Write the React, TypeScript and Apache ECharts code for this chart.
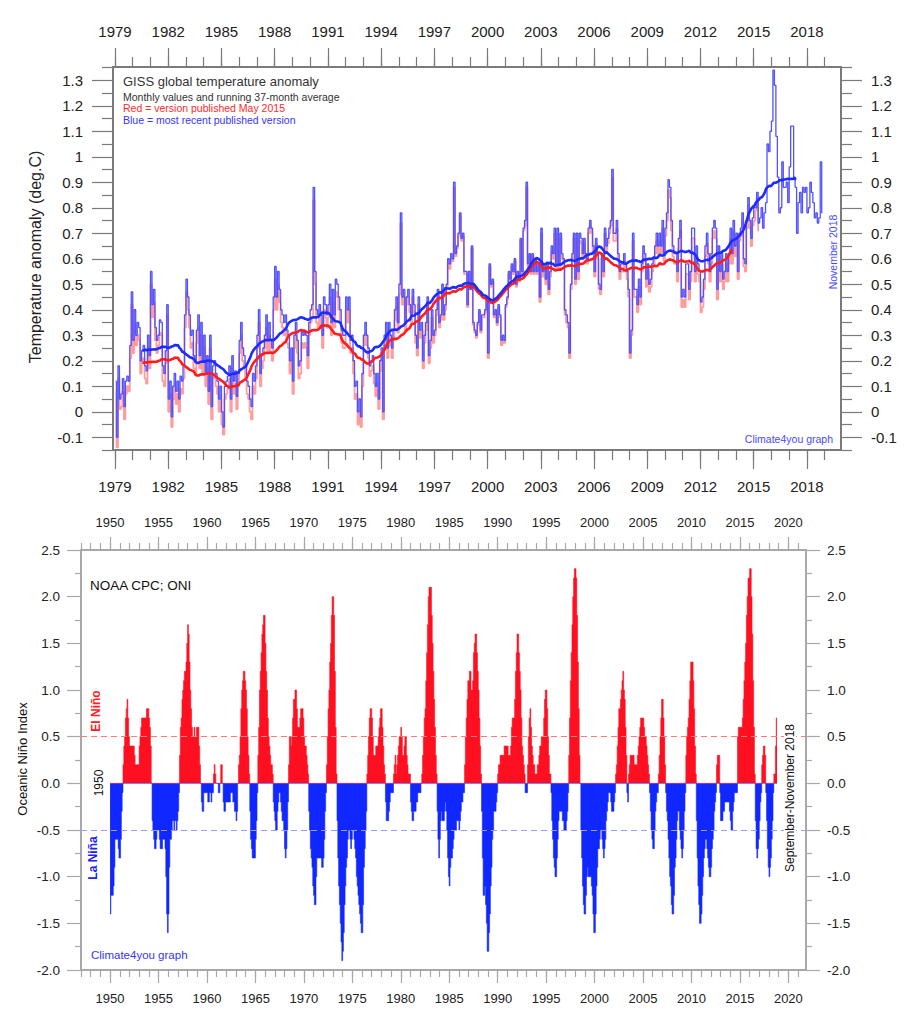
import React, { useEffect, useRef } from "react";
import * as echarts from "echarts";

// ---------- Top panel: GISS monthly anomaly (deg C), starting Jan 1979 ----------
const GISS_START = 1979;
const GISS_BLUE = [
  0.12,-0.10,0.18,0.05,0.07,0.13,0.02,0.12,0.14,0.12,0.26,0.47,
  0.28,0.40,0.30,0.35,0.33,0.20,0.24,0.26,0.18,0.16,0.30,0.22,
  0.55,0.42,0.48,0.33,0.28,0.30,0.36,0.35,0.18,0.15,0.24,0.42,
  0.05,0.12,-0.02,0.10,0.15,0.08,0.12,0.05,0.14,0.12,0.18,0.38,
  0.52,0.45,0.38,0.30,0.32,0.22,0.20,0.32,0.38,0.22,0.35,0.20,
  0.30,0.15,0.22,0.08,0.30,0.02,0.18,0.20,0.15,0.12,0.05,0.10,
  0.00,-0.06,0.10,0.12,0.14,0.18,0.05,0.22,0.12,0.16,0.06,0.15,
  0.28,0.35,0.25,0.22,0.18,0.12,0.10,0.05,0.02,0.15,0.12,0.18,
  0.30,0.40,0.15,0.22,0.25,0.30,0.38,0.28,0.35,0.28,0.25,0.45,
  0.57,0.45,0.55,0.48,0.40,0.38,0.35,0.38,0.32,0.30,0.20,0.25,
  0.12,0.30,0.35,0.28,0.18,0.20,0.32,0.30,0.32,0.30,0.22,0.35,
  0.40,0.42,0.88,0.55,0.40,0.38,0.42,0.38,0.30,0.45,0.42,0.38,
  0.42,0.50,0.35,0.48,0.38,0.52,0.50,0.45,0.40,0.32,0.30,0.30,
  0.45,0.40,0.45,0.28,0.30,0.20,0.10,0.12,0.00,0.05,-0.02,0.15,
  0.30,0.35,0.30,0.25,0.18,0.20,0.22,0.15,0.10,0.15,0.05,0.20,
  0.25,0.00,0.30,0.35,0.25,0.35,0.30,0.25,0.32,0.40,0.45,0.35,
  0.50,0.78,0.45,0.48,0.35,0.45,0.48,0.42,0.38,0.48,0.42,0.30,
  0.25,0.45,0.32,0.35,0.20,0.30,0.35,0.45,0.22,0.28,0.40,0.30,
  0.32,0.40,0.48,0.35,0.38,0.50,0.38,0.42,0.50,0.60,0.58,0.62,
  0.60,0.90,0.62,0.65,0.70,0.78,0.68,0.70,0.55,0.55,0.42,0.55,
  0.48,0.65,0.35,0.32,0.30,0.35,0.40,0.32,0.38,0.38,0.40,0.45,
  0.23,0.58,0.50,0.52,0.38,0.40,0.35,0.42,0.38,0.28,0.30,0.28,
  0.42,0.45,0.55,0.52,0.58,0.55,0.60,0.50,0.55,0.52,0.68,0.55,
  0.72,0.75,0.90,0.58,0.62,0.55,0.62,0.55,0.60,0.55,0.58,0.45,
  0.72,0.55,0.58,0.52,0.58,0.48,0.55,0.65,0.62,0.72,0.58,0.72,
  0.58,0.70,0.62,0.60,0.40,0.38,0.35,0.23,0.50,0.62,0.70,0.52,
  0.70,0.55,0.70,0.68,0.62,0.68,0.62,0.60,0.72,0.75,0.72,0.65,
  0.55,0.68,0.62,0.50,0.48,0.62,0.55,0.72,0.65,0.68,0.72,0.75,
  0.95,0.70,0.70,0.75,0.62,0.55,0.58,0.58,0.62,0.58,0.55,0.48,
  0.23,0.32,0.70,0.48,0.48,0.42,0.52,0.45,0.58,0.65,0.62,0.52,
  0.58,0.50,0.52,0.58,0.60,0.65,0.70,0.65,0.70,0.65,0.75,0.62,
  0.72,0.78,0.91,0.88,0.75,0.65,0.62,0.62,0.55,0.68,0.75,0.45,
  0.48,0.45,0.58,0.58,0.48,0.55,0.72,0.72,0.55,0.65,0.58,0.55,
  0.43,0.45,0.52,0.65,0.70,0.62,0.55,0.62,0.72,0.75,0.72,0.48,
  0.65,0.55,0.62,0.52,0.55,0.62,0.55,0.62,0.72,0.62,0.75,0.65,
  0.70,0.55,0.70,0.72,0.78,0.60,0.58,0.75,0.84,0.75,0.68,0.76,
  0.80,0.80,0.86,0.74,0.76,0.80,0.72,0.78,0.82,1.05,1.02,1.10,
  1.14,1.34,1.28,1.08,0.92,0.78,0.80,0.98,0.88,0.88,0.90,0.82,
  0.96,1.12,1.12,0.92,0.88,0.70,0.82,0.86,0.78,0.88,0.86,0.88,
  0.78,0.80,0.90,0.86,0.82,0.76,0.78,0.74,0.76,0.98,0.78,
];
const GISS_RED = [
  0.08,-0.14,0.13,0.01,0.02,0.08,-0.03,0.07,0.10,0.08,0.21,0.42,
  0.23,0.34,0.26,0.30,0.28,0.15,0.20,0.21,0.13,0.11,0.25,0.17,
  0.50,0.37,0.43,0.28,0.23,0.26,0.31,0.30,0.12,0.10,0.19,0.38,
  0.00,0.07,-0.06,0.05,0.10,0.03,0.07,0.00,0.09,0.07,0.13,0.33,
  0.47,0.40,0.33,0.25,0.27,0.17,0.15,0.27,0.33,0.17,0.30,0.15,
  0.25,0.10,0.17,0.03,0.25,-0.03,0.13,0.15,0.10,0.07,0.00,0.05,
  -0.05,-0.09,0.05,0.07,0.09,0.13,0.00,0.17,0.07,0.11,0.01,0.10,
  0.23,0.30,0.20,0.17,0.13,0.07,0.05,0.00,-0.03,0.10,0.07,0.13,
  0.25,0.35,0.10,0.17,0.20,0.25,0.33,0.23,0.30,0.23,0.20,0.40,
  0.52,0.40,0.50,0.43,0.35,0.33,0.30,0.33,0.27,0.25,0.15,0.20,
  0.07,0.25,0.30,0.23,0.13,0.15,0.27,0.25,0.27,0.25,0.17,0.30,
  0.35,0.37,0.83,0.50,0.35,0.33,0.37,0.33,0.25,0.40,0.37,0.33,
  0.37,0.45,0.30,0.43,0.33,0.47,0.45,0.40,0.35,0.27,0.25,0.25,
  0.40,0.35,0.40,0.23,0.25,0.15,0.05,0.07,-0.05,0.00,-0.06,0.10,
  0.26,0.31,0.26,0.21,0.14,0.16,0.18,0.11,0.06,0.11,0.01,0.16,
  0.21,-0.03,0.26,0.31,0.21,0.31,0.26,0.21,0.28,0.36,0.41,0.31,
  0.46,0.74,0.42,0.45,0.32,0.42,0.45,0.39,0.35,0.45,0.39,0.27,
  0.22,0.42,0.29,0.32,0.17,0.27,0.32,0.42,0.19,0.25,0.37,0.27,
  0.30,0.38,0.46,0.33,0.36,0.48,0.36,0.40,0.48,0.58,0.56,0.60,
  0.59,0.88,0.61,0.64,0.69,0.77,0.67,0.69,0.54,0.54,0.41,0.54,
  0.48,0.64,0.34,0.31,0.29,0.34,0.39,0.31,0.37,0.37,0.39,0.44,
  0.21,0.57,0.49,0.51,0.37,0.39,0.34,0.41,0.37,0.26,0.29,0.27,
  0.41,0.44,0.54,0.51,0.57,0.54,0.59,0.49,0.54,0.51,0.67,0.54,
  0.71,0.73,0.88,0.57,0.61,0.54,0.61,0.54,0.59,0.54,0.57,0.43,
  0.70,0.53,0.56,0.50,0.56,0.46,0.53,0.63,0.60,0.70,0.56,0.70,
  0.56,0.68,0.60,0.58,0.38,0.35,0.33,0.21,0.48,0.60,0.68,0.50,
  0.68,0.52,0.67,0.66,0.60,0.66,0.60,0.58,0.70,0.73,0.70,0.62,
  0.53,0.66,0.60,0.48,0.46,0.60,0.53,0.70,0.63,0.66,0.70,0.73,
  0.92,0.67,0.67,0.72,0.59,0.52,0.55,0.55,0.59,0.55,0.52,0.45,
  0.21,0.30,0.67,0.45,0.45,0.39,0.49,0.42,0.55,0.62,0.59,0.49,
  0.55,0.47,0.49,0.55,0.57,0.62,0.67,0.62,0.67,0.62,0.72,0.59,
  0.69,0.75,0.87,0.84,0.71,0.61,0.58,0.58,0.51,0.64,0.71,0.41,
  0.44,0.41,0.54,0.54,0.44,0.51,0.68,0.68,0.51,0.61,0.54,0.51,
  0.39,0.41,0.48,0.61,0.66,0.58,0.51,0.58,0.68,0.71,0.68,0.44,
  0.61,0.51,0.58,0.48,0.51,0.58,0.51,0.58,0.68,0.58,0.71,0.61,
  0.67,0.52,0.67,0.69,0.75,0.57,0.55,0.72,0.81,0.72,0.65,0.73,
  0.75,0.79,0.84,0.71,
];
const RUNNING_MONTHS = 37;

// ---------- Bottom panel: ONI (3-month running), starting DJF 1950 ----------
const ONI_START = 1950;
const ONI = [
  -1.4,-1.2,-1.2,-1.2,-1.1,-0.9,-0.6,-0.6,-0.6,-0.6,-0.7,-0.8,
  -0.8,-0.6,-0.3,-0.1,0.2,0.4,0.5,0.7,0.8,0.9,0.7,0.5,
  0.4,0.4,0.4,0.4,0.4,0.4,0.3,0.2,0.2,0.2,0.2,0.2,
  0.4,0.5,0.6,0.7,0.7,0.7,0.7,0.7,0.7,0.8,0.8,0.8,
  0.7,0.6,0.4,0.0,-0.4,-0.5,-0.6,-0.7,-0.7,-0.6,-0.5,-0.5,
  -0.5,-0.6,-0.7,-0.7,-0.7,-0.6,-0.6,-0.6,-0.7,-1.0,-1.4,-1.6,
  -1.4,-0.9,-0.6,-0.6,-0.5,-0.4,-0.4,-0.5,-0.4,-0.4,-0.5,-0.4,
  -0.3,-0.1,0.3,0.6,0.7,0.9,1.0,1.1,1.2,1.2,1.3,1.5,
  1.7,1.6,1.3,1.0,0.8,0.6,0.5,0.5,0.6,0.5,0.5,0.6,
  0.6,0.6,0.4,0.2,0.0,-0.2,-0.3,-0.3,-0.1,-0.1,-0.1,-0.1,
  -0.1,-0.2,-0.2,-0.1,-0.1,-0.2,-0.1,-0.1,0.1,0.2,0.1,0.0,
  0.0,0.0,-0.1,-0.1,0.0,0.2,0.2,0.0,-0.2,-0.3,-0.3,-0.2,
  -0.2,-0.2,-0.2,-0.2,-0.2,-0.1,-0.1,-0.1,-0.2,-0.2,-0.3,-0.3,
  -0.4,-0.3,0.0,0.2,0.3,0.5,0.8,1.0,1.1,1.2,1.2,1.1,
  1.0,0.8,0.5,0.3,0.1,-0.3,-0.6,-0.7,-0.8,-0.8,-0.8,-0.8,
  -0.6,-0.4,-0.1,0.3,0.6,1.0,1.2,1.4,1.6,1.7,1.8,1.8,
  1.5,1.2,1.0,0.7,0.5,0.4,0.3,0.2,0.2,0.1,-0.2,-0.3,
  -0.4,-0.5,-0.5,-0.3,-0.2,-0.1,-0.1,-0.2,-0.3,-0.4,-0.4,-0.5,
  -0.7,-0.8,-0.7,-0.5,-0.2,0.2,0.5,0.5,0.4,0.5,0.7,0.9,
  0.9,1.0,1.0,0.8,0.6,0.6,0.6,0.7,0.8,0.8,0.8,0.7,
  0.5,0.4,0.4,0.3,0.2,0.1,-0.3,-0.5,-0.7,-0.8,-0.9,-1.1,
  -1.2,-1.3,-1.3,-1.0,-0.8,-0.8,-0.8,-0.8,-0.8,-0.8,-0.9,-0.9,
  -0.8,-0.6,-0.3,-0.1,0.2,0.5,0.8,1.0,1.3,1.5,1.8,2.0,
  2.0,1.8,1.2,0.6,0.1,-0.4,-0.8,-1.1,-1.3,-1.5,-1.7,-1.9,
  -1.8,-1.6,-1.3,-1.1,-0.9,-0.8,-0.6,-0.5,-0.5,-0.6,-0.7,-0.6,
  -0.5,-0.5,-0.6,-0.7,-0.8,-1.0,-1.1,-1.2,-1.3,-1.4,-1.5,-1.6,
  -1.6,-1.3,-0.9,-0.7,-0.5,-0.3,0.1,0.3,0.5,0.7,0.8,0.8,
  0.7,0.5,0.3,0.3,0.3,0.4,0.4,0.4,0.5,0.6,0.7,0.8,
  0.8,0.6,0.4,0.2,0.1,-0.2,-0.4,-0.4,-0.4,-0.3,-0.2,-0.1,
  -0.1,-0.1,-0.1,0.1,0.2,0.3,0.1,0.2,0.3,0.4,0.5,0.5,
  0.6,0.5,0.3,0.3,0.4,0.5,0.5,0.3,0.2,0.1,0.1,0.1,
  -0.2,-0.3,-0.4,-0.4,-0.3,-0.3,-0.3,-0.2,-0.2,-0.1,-0.1,-0.1,
  -0.1,0.0,0.1,0.3,0.5,0.7,0.8,1.1,1.4,1.7,2.0,2.1,
  2.1,2.1,1.8,1.5,1.2,0.9,0.6,0.3,0.1,-0.3,-0.6,-0.8,
  -0.6,-0.4,-0.3,-0.4,-0.4,-0.4,-0.3,-0.2,-0.3,-0.5,-0.8,-1.0,
  -1.1,-0.9,-0.8,-0.8,-0.7,-0.6,-0.5,-0.5,-0.5,-0.4,-0.4,-0.4,
  -0.5,-0.4,-0.3,-0.2,-0.2,-0.1,-0.1,0.2,0.5,0.7,0.9,1.1,
  1.1,1.2,1.2,1.0,1.0,1.1,1.4,1.5,1.6,1.6,1.4,1.2,
  1.0,0.7,0.4,0.1,-0.3,-0.8,-1.2,-1.2,-1.1,-1.3,-1.5,-1.8,
  -1.8,-1.6,-1.4,-1.1,-0.9,-0.6,-0.5,-0.3,-0.3,-0.3,-0.2,-0.1,
  0.1,0.2,0.2,0.3,0.3,0.3,0.3,0.3,0.4,0.4,0.4,0.4,
  0.4,0.3,0.3,0.3,0.4,0.6,0.7,0.7,0.7,0.9,1.2,1.4,
  1.6,1.6,1.4,1.2,1.0,0.7,0.4,0.3,0.2,0.1,-0.1,-0.1,
  -0.1,0.2,0.5,0.7,0.8,0.6,0.4,0.3,0.2,0.2,0.1,0.1,
  0.1,0.2,0.2,0.3,0.4,0.4,0.5,0.5,0.5,0.7,0.9,1.0,
  1.0,0.8,0.5,0.3,0.1,0.1,-0.1,-0.4,-0.6,-0.8,-0.9,-1.0,
  -1.0,-0.8,-0.6,-0.4,-0.3,-0.3,-0.3,-0.3,-0.4,-0.4,-0.5,-0.5,
  -0.5,-0.4,-0.3,-0.1,0.3,0.7,1.1,1.4,1.7,2.0,2.2,2.3,
  2.3,2.2,1.8,1.3,0.8,0.3,0.0,-0.5,-0.8,-1.1,-1.3,-1.4,
  -1.4,-1.2,-1.0,-0.9,-1.0,-1.0,-1.0,-1.0,-1.1,-1.2,-1.4,-1.6,
  -1.6,-1.4,-1.1,-0.9,-0.7,-0.7,-0.6,-0.5,-0.5,-0.6,-0.7,-0.8,
  -0.7,-0.6,-0.4,-0.3,-0.2,-0.1,-0.1,-0.1,-0.2,-0.3,-0.3,-0.3,
  -0.2,-0.1,0.1,0.2,0.4,0.6,0.8,0.8,0.9,1.0,1.1,1.2,
  1.0,0.9,0.6,0.3,-0.1,-0.2,0.1,0.2,0.3,0.3,0.3,0.3,
  0.3,0.2,0.2,0.2,0.2,0.3,0.4,0.5,0.6,0.7,0.7,0.7,
  0.7,0.6,0.5,0.5,0.4,0.3,0.2,0.1,-0.1,-0.3,-0.5,-0.6,
  -0.7,-0.7,-0.5,-0.3,-0.2,-0.1,-0.1,0.1,0.3,0.5,0.7,0.9,
  0.9,0.7,0.5,0.2,-0.1,-0.3,-0.4,-0.6,-0.8,-1.0,-1.1,-1.3,
  -1.4,-1.4,-1.2,-0.9,-0.8,-0.6,-0.4,-0.3,-0.3,-0.5,-0.6,-0.7,
  -0.8,-0.7,-0.5,-0.3,-0.1,0.3,0.5,0.6,0.7,0.9,1.1,1.3,
  1.3,1.3,1.1,0.8,0.4,0.1,-0.4,-0.8,-1.1,-1.3,-1.5,-1.5,
  -1.4,-1.2,-1.0,-0.8,-0.7,-0.6,-0.6,-0.7,-0.8,-0.9,-1.0,-1.0,
  -0.9,-0.7,-0.6,-0.5,-0.3,-0.2,-0.1,0.2,0.3,0.3,0.3,-0.1,
  -0.4,-0.4,-0.4,-0.3,-0.3,-0.2,-0.2,-0.2,-0.2,-0.2,-0.2,-0.3,
  -0.4,-0.5,-0.5,-0.3,-0.2,-0.1,-0.1,-0.1,-0.1,0.5,0.6,0.6,
  0.6,0.6,0.6,0.7,0.9,1.1,1.3,1.5,1.8,2.0,2.2,2.2,
  2.3,2.3,2.0,1.6,1.1,0.6,0.1,-0.4,-0.7,-0.8,-0.7,-0.6,
  -0.4,-0.2,-0.1,0.2,0.3,0.4,0.4,0.3,-0.1,-0.4,-0.7,-0.9,
  -1.0,-0.9,-0.8,-0.6,-0.4,-0.1,0.1,0.1,0.4,0.7,
];
const ONI_THRESHOLDS = [0.5, -0.5];

// ---------- Tick values ----------
const TOP_YEAR_LABELS = [1979,1982,1985,1988,1991,1994,1997,2000,2003,2006,2009,2012,2015,2018];
const TOP_YEAR_MINOR = [1979,1980,1981,1982,1983,1984,1985,1986,1987,1988,1989,1990,1991,1992,1993,1994,1995,1996,1997,1998,1999,2000,2001,2002,2003,2004,2005,2006,2007,2008,2009,2010,2011,2012,2013,2014,2015,2016,2017,2018,2019];
const TOP_Y_LABELS = [-0.1,0,0.1,0.2,0.3,0.4,0.5,0.6,0.7,0.8,0.9,1,1.1,1.2,1.3];
const TOP_Y_MINOR = [-0.15,-0.05,0.05,0.15,0.25,0.35,0.45,0.55,0.65,0.75,0.85,0.95,1.05,1.15,1.25,1.35];
const BOT_YEAR_LABELS = [1950,1955,1960,1965,1970,1975,1980,1985,1990,1995,2000,2005,2010,2015,2020];
const BOT_YEAR_MINOR = [1947,1948,1949,1950,1951,1952,1953,1954,1955,1956,1957,1958,1959,1960,1961,1962,1963,1964,1965,1966,1967,1968,1969,1970,1971,1972,1973,1974,1975,1976,1977,1978,1979,1980,1981,1982,1983,1984,1985,1986,1987,1988,1989,1990,1991,1992,1993,1994,1995,1996,1997,1998,1999,2000,2001,2002,2003,2004,2005,2006,2007,2008,2009,2010,2011,2012,2013,2014,2015,2016,2017,2018,2019,2020,2021];
const BOT_Y_LABELS = [-2,-1.5,-1,-0.5,0,0.5,1,1.5,2,2.5];
const BOT_Y_MINOR = [-1.75,-1.25,-0.75,-0.25,0.25,0.75,1.25,1.75,2.25];

const FONT = "'Liberation Sans', Arial, Helvetica, sans-serif";

function monthly(start: number, vals: number[]) {
  return vals.map((v, i) => [start + (i + 0.5) / 12, v]);
}
function running(start: number, vals: number[], w: number) {
  const h = Math.floor(w / 2);
  const out: number[][] = [];
  for (let i = h; i < vals.length - h; i++) {
    let s = 0;
    for (let k = i - h; k <= i + h; k++) s += vals[k];
    out.push([start + (i + 0.5) / 12, s / w]);
  }
  return out;
}
// stepped histogram outline of one sign: each value held from its month start to the next month
function steps(start: number, vals: number[], sign: number) {
  const pts = vals.map((v, i) => [start + i / 12, sign > 0 ? Math.max(v, 0) : Math.min(v, 0)]);
  const last = vals[vals.length - 1];
  pts.push([start + vals.length / 12, sign > 0 ? Math.max(last, 0) : Math.min(last, 0)]);
  return pts;
}

export default function App() {
  const ref = useRef<HTMLDivElement>(null);
  useEffect(() => {
    document.body.style.margin = "0";
    const chart = echarts.init(ref.current!, undefined, { renderer: "svg" });

    const TX0 = 1978.887, TX1 = 2019.92, TY0 = -0.15, TY1 = 1.352;
    const BX0 = 1947.0, BX1 = 2021.82, BY0 = -2.0, BY1 = 2.5;
    const topLine = { color: "#7a7a7a", width: 2 };
    const botLine = { color: "#a8a8a8", width: 2 };

    const xAx = (grid: number, pos: string, min: number, max: number, ticks: number[], len: number,
      line: any, labels?: number[], margin?: number, fs?: number) => ({
      type: "value", gridIndex: grid, position: pos, min, max,
      axisLine: { show: !!labels, onZero: false, lineStyle: line },
      axisTick: { show: true, inside: false, length: len, customValues: ticks, lineStyle: { color: line.color, width: 1.2 } },
      axisLabel: labels ? { show: true, customValues: labels, margin, fontSize: fs, color: "#222", fontFamily: FONT,
        formatter: (v: number) => String(Math.round(v)) } : { show: false },
      splitLine: { show: false },
    });
    const yAx = (grid: number, pos: string, min: number, max: number, ticks: number[], len: number,
      line: any, labels?: number[], margin?: number, fs?: number, fmt?: (v: number) => string) => ({
      type: "value", gridIndex: grid, position: pos, min, max,
      axisLine: { show: !!labels, onZero: false, lineStyle: line },
      axisTick: { show: true, inside: false, length: len, customValues: ticks, lineStyle: { color: line.color, width: 1.2 } },
      axisLabel: labels ? { show: true, customValues: labels, margin, fontSize: fs, color: "#222", fontFamily: FONT, formatter: fmt } : { show: false },
      splitLine: { show: false },
    });

    const topFmt = (v: number) => String(Math.round(v * 10) / 10);
    const botFmt = (v: number) => (Math.round(v * 10) / 10).toFixed(1);

    const RED = "#ff1020";
    const BLUE = "#1028ff";

    const option: any = {
      animation: false,
      backgroundColor: "#ffffff",
      textStyle: { fontFamily: FONT },
      grid: [
        { left: 113, top: 67, width: 728, height: 383, outerBoundsMode: "none", containLabel: false },
        { left: 81, top: 550, width: 725, height: 420, outerBoundsMode: "none", containLabel: false },
      ],
      xAxis: [
        xAx(0, "bottom", TX0, TX1, TOP_YEAR_LABELS, 19, topLine, TOP_YEAR_LABELS, 29, 15),
        xAx(0, "bottom", TX0, TX1, TOP_YEAR_MINOR, 10, topLine),
        xAx(0, "top", TX0, TX1, TOP_YEAR_LABELS, 19, topLine, TOP_YEAR_LABELS, 28, 15),
        xAx(0, "top", TX0, TX1, TOP_YEAR_MINOR, 10, topLine),
        xAx(1, "bottom", BX0, BX1, BOT_YEAR_LABELS, 13, botLine, BOT_YEAR_LABELS, 22, 13),
        xAx(1, "bottom", BX0, BX1, BOT_YEAR_MINOR, 7, botLine),
        xAx(1, "top", BX0, BX1, BOT_YEAR_LABELS, 13, botLine, BOT_YEAR_LABELS, 21, 13),
        xAx(1, "top", BX0, BX1, BOT_YEAR_MINOR, 7, botLine),
      ],
      yAxis: [
        yAx(0, "left", TY0, TY1, TOP_Y_LABELS, 21, topLine, TOP_Y_LABELS, 30, 15, topFmt),
        yAx(0, "left", TY0, TY1, TOP_Y_MINOR, 11, topLine),
        yAx(0, "right", TY0, TY1, TOP_Y_LABELS, 21, topLine, TOP_Y_LABELS, 30, 15, topFmt),
        yAx(0, "right", TY0, TY1, TOP_Y_MINOR, 11, topLine),
        yAx(1, "left", BY0, BY1, BOT_Y_LABELS, 14, botLine, BOT_Y_LABELS, 21, 13.5, botFmt),
        yAx(1, "left", BY0, BY1, BOT_Y_MINOR, 6, botLine),
        yAx(1, "right", BY0, BY1, BOT_Y_LABELS, 14, botLine, BOT_Y_LABELS, 21, 13.5, botFmt),
        yAx(1, "right", BY0, BY1, BOT_Y_MINOR, 6, botLine),
      ],
      series: [
        {
          type: "line", xAxisIndex: 0, yAxisIndex: 0, step: "middle", showSymbol: false, silent: true,
          data: monthly(GISS_START, GISS_RED), lineStyle: { color: "#ff9c9c", width: 1.8 }, z: 2,
        },
        {
          type: "line", xAxisIndex: 0, yAxisIndex: 0, step: "middle", showSymbol: false, silent: true,
          data: monthly(GISS_START, GISS_BLUE), lineStyle: { color: "#5252ff", width: 1.3 }, z: 3,
        },
        {
          type: "line", xAxisIndex: 0, yAxisIndex: 0, showSymbol: false, silent: true,
          data: running(GISS_START, GISS_RED, RUNNING_MONTHS), lineStyle: { color: "#ff1c1c", width: 2.6 }, z: 4,
        },
        {
          type: "line", xAxisIndex: 0, yAxisIndex: 0, showSymbol: false, silent: true,
          data: running(GISS_START, GISS_BLUE, RUNNING_MONTHS), lineStyle: { color: "#1c2cff", width: 2.6 }, z: 5,
        },
        {
          type: "line", xAxisIndex: 4, yAxisIndex: 4, step: "end", showSymbol: false, silent: true, z: 3,
          data: steps(ONI_START, ONI, 1),
          lineStyle: { color: RED, width: 0.6 },
          areaStyle: { color: RED, opacity: 1, origin: 0 },
        },
        {
          type: "line", xAxisIndex: 4, yAxisIndex: 4, step: "end", showSymbol: false, silent: true, z: 3,
          data: steps(ONI_START, ONI, -1),
          lineStyle: { color: BLUE, width: 0.6 },
          areaStyle: { color: BLUE, opacity: 1, origin: 0 },
          markLine: {
            silent: true, symbol: "none", label: { show: false },
            lineStyle: { type: [6, 4], width: 1 },
            data: [
              { yAxis: ONI_THRESHOLDS[0], lineStyle: { color: "#ff7a7a", type: [6, 4], width: 1 } },
              { yAxis: ONI_THRESHOLDS[1], lineStyle: { color: "#9a9aff", type: [6, 4], width: 1 } },
            ],
          },
        },
      ],
      graphic: [
        { type: "text", left: 123, top: 75, style: { text: "GISS global temperature anomaly", fontSize: 13, fill: "#333", fontFamily: FONT } },
        { type: "text", left: 123, top: 91, style: { text: "Monthly values and running 37-month average", fontSize: 10.5, fill: "#333", fontFamily: FONT } },
        { type: "text", left: 123, top: 102.5, style: { text: "Red = version published May 2015", fontSize: 10.5, fill: "#ff2a2a", fontFamily: FONT } },
        { type: "text", left: 123, top: 114, style: { text: "Blue = most recent published version", fontSize: 10.5, fill: "#3434ff", fontFamily: FONT } },
        { type: "text", x: 35, y: 257, rotation: Math.PI / 2, style: { text: "Temperature anomaly (deg.C)", fontSize: 16, fill: "#222", fontFamily: FONT, align: "center", verticalAlign: "middle" } },
        { type: "text", x: 833, y: 252, rotation: Math.PI / 2, style: { text: "November 2018", fontSize: 10.5, fill: "#4a4aff", fontFamily: FONT, align: "center", verticalAlign: "middle" } },
        { type: "text", x: 833, y: 439, style: { text: "Climate4you graph", fontSize: 10.5, fill: "#4a4aff", fontFamily: FONT, align: "right", verticalAlign: "middle" } },

        { type: "text", x: 90, y: 585, style: { text: "NOAA CPC; ONI", fontSize: 13.5, fill: "#111", fontFamily: FONT, align: "left", verticalAlign: "middle" } },
        { type: "text", x: 96, y: 711, rotation: Math.PI / 2, style: { text: "El Niño", fontSize: 12, fontWeight: "bold", fill: "#ff2020", fontFamily: FONT, align: "center", verticalAlign: "middle" } },
        { type: "text", x: 98.5, y: 783, rotation: Math.PI / 2, style: { text: "1950", fontSize: 12, fill: "#111", fontFamily: FONT, align: "center", verticalAlign: "middle" } },
        { type: "text", x: 93, y: 858, rotation: Math.PI / 2, style: { text: "La Niña", fontSize: 12, fontWeight: "bold", fill: "#2020ff", fontFamily: FONT, align: "center", verticalAlign: "middle" } },
        { type: "text", x: 91, y: 955, style: { text: "Climate4you graph", fontSize: 11.5, fill: "#3535ff", fontFamily: FONT, align: "left", verticalAlign: "middle" } },
        { type: "text", x: 790, y: 798, rotation: Math.PI / 2, z: 20, style: { text: "September-November 2018", fontSize: 12, fill: "#111", fontFamily: FONT, align: "center", verticalAlign: "middle", backgroundColor: "#ffffff", padding: [0, 2, 0, 2] } },
        { type: "text", x: 22, y: 759, rotation: Math.PI / 2, style: { text: "Oceanic Niño Index", fontSize: 13, fill: "#111", fontFamily: FONT, align: "center", verticalAlign: "middle" } },
      ],
    };
    chart.setOption(option);
    return () => chart.dispose();
  }, []);
  return <div ref={ref} style={{ width: 911, height: 1014 }} />;
}
